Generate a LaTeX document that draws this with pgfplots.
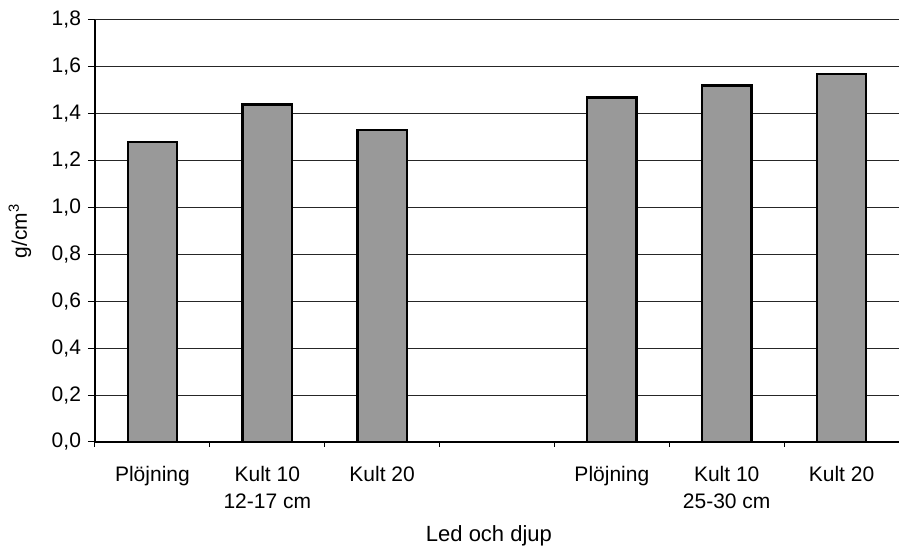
\documentclass[border=0pt]{standalone}
\usepackage{pgfplots}
\pgfplotsset{compat=1.18}
\usepackage{fontspec}
\setmainfont{Liberation Sans}
\usetikzlibrary{calc}

% Skrymdensitet per led och djup (g/cm3)
\pgfplotstableread{
x  val
0  1.28
1  1.44
2  1.33
4  1.47
5  1.52
6  1.57
}\densitet

\begin{document}
\begin{tikzpicture}
\begin{axis}[
  scale only axis,
  width=402pt, height=211pt,
  xmin=-0.5, xmax=6.5,
  ymin=0, ymax=1.8,
  ytick={0,0.2,...,1.81},
  axis x line*=bottom,
  axis y line*=left,
  axis line style={black, line width=0.6pt},
  ymajorgrids,
  grid style={black!85, line width=0.5pt},
  tick align=outside,
  major tick length=3.5pt,
  minor tick length=2.5pt,
  tick style={black, line width=0.5pt},
  xtick={0,...,6},
  xticklabels={Plöjning, {Kult 10\\12-17 cm}, Kult 20, {}, Plöjning, {Kult 10\\25-30 cm}, Kult 20},
  x tick style={draw=none},
  minor xtick={-0.5,0.5,...,6.6},
  minor x tick style={draw=black, line width=0.5pt},
  xticklabel style={align=center, font=\fontsize{10.5}{13.5}\selectfont, yshift=-5pt},
  yticklabel style={font=\fontsize{10.5}{12}\selectfont},
  /pgf/number format/.cd, use comma, fixed, fixed zerofill, precision=1, assume math mode=true,
  /pgfplots/.cd,
  ylabel={g/cm\textsuperscript{3}},
  ylabel style={at={(axis description cs:-0.0933,0.5)}, anchor=center, font=\fontsize{10.5}{12}\selectfont},
  xlabel={Led och djup},
  xlabel style={at={(axis description cs:0.49,0)}, anchor=center, yshift=-47pt, font=\fontsize{11}{13}\selectfont},
  clip=false,
]
\addplot[ybar, bar width=0.43, fill=black!40, draw=black, line width=1.2pt]
  table[x=x, y=val] {\densitet};
\end{axis}
\pgfresetboundingbox
\path[use as bounding box] ($(current axis.south west)+(-47.5pt,-53.5pt)$) rectangle ($(current axis.north east)+(0pt,10pt)$);
\end{tikzpicture}
\end{document}
